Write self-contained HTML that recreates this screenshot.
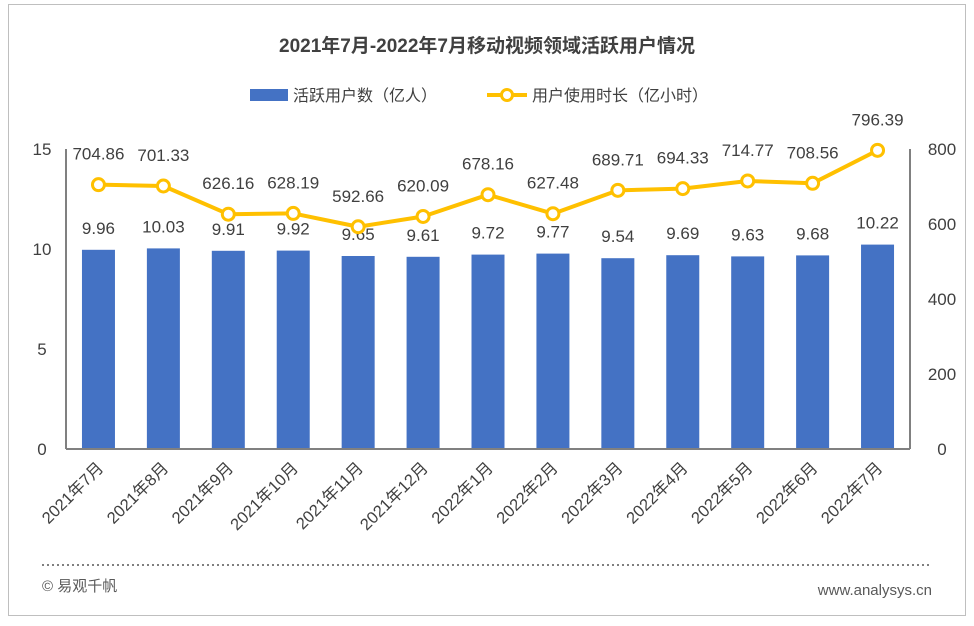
<!DOCTYPE html>
<html><head><meta charset="utf-8"><style>
body{margin:0;background:#fff;}
svg{display:block;font-family:"Liberation Sans","Noto Sans CJK SC",sans-serif;}
</style></head><body>
<svg width="974" height="626" viewBox="0 0 974 626">
<rect x="8.5" y="4.5" width="957" height="611" fill="#fff" stroke="#bfbfbf"/>
<text x="487" y="52" text-anchor="middle" font-size="19" font-weight="bold" fill="#404040">2021年7月-2022年7月移动视频领域活跃用户情况</text>
<g>
<rect x="250" y="89" width="38" height="12" fill="#4472c4"/>
<text x="293" y="101" font-size="16" fill="#404040">活跃用户数（亿人）</text>
<line x1="487" y1="95" x2="527" y2="95" stroke="#ffc000" stroke-width="4"/>
<circle cx="507" cy="95" r="5.5" fill="#fff" stroke="#ffc000" stroke-width="3"/>
<text x="532" y="101" font-size="16" fill="#404040">用户使用时长（亿小时）</text>
</g>
<g id="plot"></g>
<line x1="42" y1="565" x2="932" y2="565" stroke="#808080" stroke-width="2" stroke-dasharray="2,3"/>
<text x="42" y="591" font-size="15" fill="#595959">© 易观千帆</text>
<text x="932" y="595" text-anchor="end" font-size="15" fill="#595959">www.analysys.cn</text>
</svg>
<script>
const categories=["2021年7月","2021年8月","2021年9月","2021年10月","2021年11月","2021年12月","2022年1月","2022年2月","2022年3月","2022年4月","2022年5月","2022年6月","2022年7月"];
const users=[9.96,10.03,9.91,9.92,9.65,9.61,9.72,9.77,9.54,9.69,9.63,9.68,10.22];
const hours=[704.86,701.33,626.16,628.19,592.66,620.09,678.16,627.48,689.71,694.33,714.77,708.56,796.39];
const leftTicks=[0,5,10,15];
const rightTicks=[0,200,400,600,800];
const NS="http://www.w3.org/2000/svg";
const g=document.getElementById('plot');
const X0=66,X1=910,Y0=449,Y1=149;
const band=(X1-X0)/categories.length;
const xc=i=>X0+band*(i+0.5);
const yl=v=>Y0-(v/15)*(Y0-Y1);
const yr=v=>Y0-(v/800)*(Y0-Y1);
function el(t,a,txt){const e=document.createElementNS(NS,t);for(const k in a)e.setAttribute(k,a[k]);if(txt!==undefined)e.textContent=txt;g.appendChild(e);return e;}
let e;
e=el('line',{x1:X0,y1:Y1,x2:X0,y2:Y0,stroke:'#808080','stroke-width':2});


e=el('line',{x1:X1,y1:Y1,x2:X1,y2:Y0,stroke:'#808080','stroke-width':2});


leftTicks.forEach(v=>{e=el('text',{x:42,y:yl(v)+6,'text-anchor':'middle','font-size':17,fill:'#404040'},v);

});
rightTicks.forEach(v=>{e=el('text',{x:942,y:yr(v)+6,'text-anchor':'middle','font-size':17,fill:'#404040'},v);

});
users.forEach((v,i)=>{const bw=33;e=el('rect',{x:xc(i)-bw/2,y:yl(v),width:bw,height:Y0-yl(v),fill:'#4472c4'});


e=el('text',{x:xc(i),y:yl(v)-16,'text-anchor':'middle','font-size':17,fill:'#404040'},v.toFixed(2));

});
e=el('line',{x1:X0,y1:Y0,x2:X1,y2:Y0,stroke:'#808080','stroke-width':2});


e=el('polyline',{points:hours.map((v,i)=>xc(i)+','+yr(v)).join(' '),fill:'none',stroke:'#ffc000','stroke-width':4,'stroke-linejoin':'round'});


hours.forEach((v,i)=>{e=el('circle',{cx:xc(i),cy:yr(v),r:6,fill:'#fff',stroke:'#ffc000','stroke-width':3});


e=el('text',{x:xc(i),y:yr(v)-25,'text-anchor':'middle','font-size':17,fill:'#404040'},v.toFixed(2));

});
categories.forEach((c,i)=>{const x=xc(i)+6,y=Y0+20;e=el('text',{x:x,y:y,'text-anchor':'end','font-size':16.5,fill:'#404040',transform:`rotate(-45 ${x} ${y})`},c);

});
</script>
</body></html>
